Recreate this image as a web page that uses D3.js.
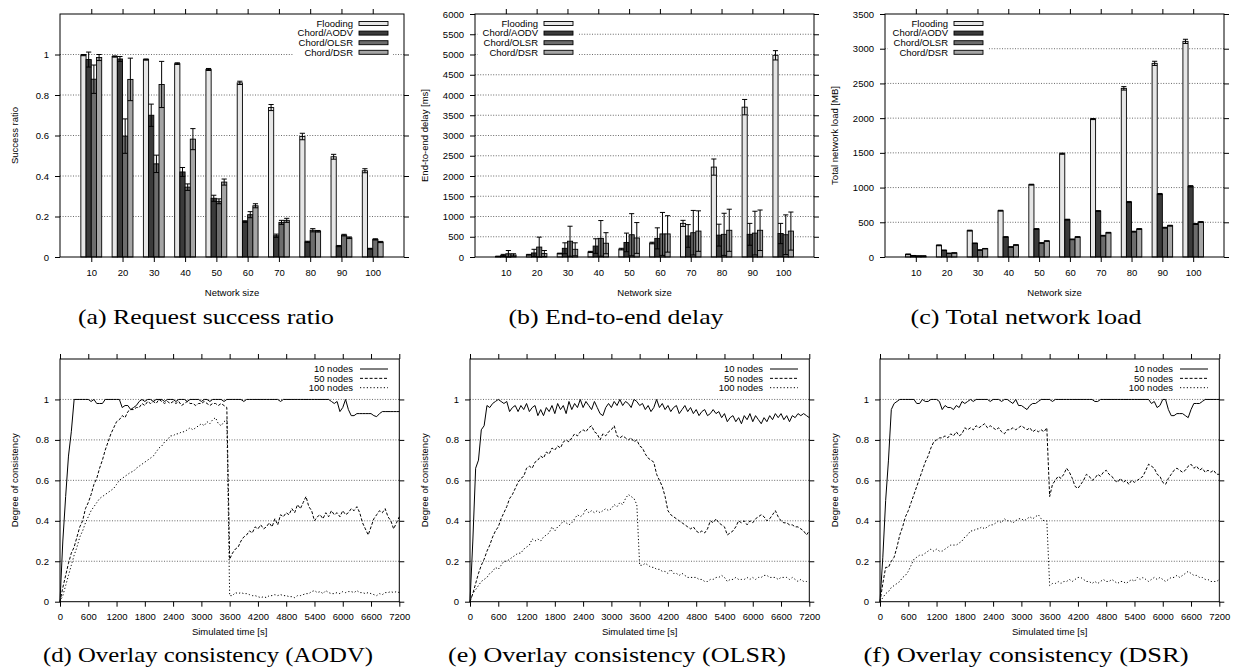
<!DOCTYPE html>
<html>
<head>
<meta charset="utf-8">
<script src="https://cdn.jsdelivr.net/npm/d3@7"></script>
<style>
body{margin:0;background:#fff}
svg text{font-family:"Liberation Sans",Arial,Helvetica,sans-serif;font-size:9.5px;fill:#000}
svg text.cap{font-family:"Liberation Serif","Times New Roman",serif;font-size:21px}
</style>
</head>
<body>
<svg id="fig" width="1237" height="671"></svg>
<script>
// categories / series names
var sizes = [10,20,30,40,50,60,70,80,90,100];
var protocols = ["Flooding","Chord/AODV","Chord/OLSR","Chord/DSR"];
var barFill = ["#e6e6e6","#3b3b3b","#6d6d6d","#a5a5a5"];

// (a) request success ratio
var succFlood    = [0.997,0.990,0.975,0.955,0.926,0.860,0.738,0.595,0.495,0.426];
var succFloodErr = [0.003,0.003,0.003,0.004,0.005,0.008,0.015,0.016,0.012,0.010];
var succAodv     = [0.975,0.978,0.700,0.420,0.290,0.175,0.105,0.075,0.054,0.041];
var succAodvErr  = [0.037,0.012,0.055,0.022,0.015,0.004,0.008,0.003,0.003,0.002];
var succOlsr     = [0.878,0.597,0.460,0.345,0.275,0.209,0.171,0.132,0.108,0.087];
var succOlsrErr  = [0.070,0.085,0.043,0.016,0.012,0.015,0.010,0.008,0.004,0.003];
var succDsr      = [0.985,0.877,0.852,0.582,0.370,0.253,0.181,0.127,0.095,0.074];
var succDsrErr   = [0.015,0.105,0.114,0.052,0.015,0.010,0.010,0.004,0.004,0.003];
var succTicks    = [0,0.2,0.4,0.6,0.8,1];

// (b) end-to-end delay [ms]
var delFlood    = [15,55,85,125,195,345,830,2220,3700,4980];
var delFloodErr = [5,10,10,15,20,20,75,200,190,115];
var delAodv     = [40,100,215,270,360,460,520,540,560,580];
var delAodvErr  = [25,90,135,180,230,260,280,270,270,250];
var delOlsr     = [80,245,390,460,550,570,600,560,590,550];
var delOlsrErr  = [80,245,370,440,520,530,550,520,540,490];
var delDsr      = [50,85,190,340,470,570,640,660,660,640];
var delDsrErr   = [30,75,160,260,380,450,500,520,500,470];
var delTicks    = [0,500,1000,1500,2000,2500,3000,3500,4000,4500,5000,5500,6000];

// (c) total network load [MB]
var loadFlood    = [38,168,380,667,1042,1488,1987,2429,2789,3106];
var loadFloodErr = [5,6,6,6,6,8,8,25,30,30];
var loadAodv     = [19,96,197,288,403,538,662,792,907,1018];
var loadAodvErr  = [3,4,4,5,6,6,6,8,8,10];
var loadOlsr     = [14,53,100,144,202,254,307,365,422,475];
var loadOlsrErr  = [2,3,3,4,4,5,5,6,6,6];
var loadDsr      = [14,58,120,173,230,288,350,403,451,504];
var loadDsrErr   = [2,3,3,4,4,5,5,6,6,6];
var loadTicks    = [0,500,1000,1500,2000,2500,3000,3500];

// (d)-(f) overlay consistency, one value every 60 s from 0 to 7200 s
var simTime = d3.range(0, 7201, 60);
var timeTicks = [0,600,1200,1800,2400,3000,3600,4200,4800,5400,6000,6600,7200];
var consTicks = [0,0.2,0.4,0.6,0.8,1];
var nodeNames = ["10 nodes","50 nodes","100 nodes"];

var aodv10 = [0,0.30,0.52,0.72,0.84,1,1,1,1,1,
  1,0.99,1,0.98,0.98,0.98,1,1,1,1,
  1,1,0.96,0.97,0.97,0.95,0.96,0.97,0.99,1,
  0.99,1,1,0.99,1,1,1,0.99,1,1,
  1,0.99,1,1,1,0.99,1,1,1,1,
  0.99,1,1,0.99,1,1,1,1,0.99,1,
  1,1,1,1,1,0.99,1,1,1,1,
  1,1,1,1,1,1,1,1,0.99,1,
  1,1,1,1,1,1,1,1,1,1,
  1,1,1,1,1,1,0.99,0.98,0.99,0.94,
  0.96,1,0.95,0.92,0.92,0.93,0.93,0.93,0.93,0.93,
  0.93,0.92,0.915,0.93,0.94,0.94,0.94,0.94,0.94,0.94,
  0.94];
var aodv50 = [0,0.07,0.13,0.19,0.24,0.27,0.32,0.37,0.40,0.46,
  0.49,0.53,0.58,0.61,0.66,0.70,0.75,0.79,0.83,0.86,
  0.89,0.90,0.92,0.91,0.94,0.95,0.95,0.96,0.96,0.98,
  0.97,0.99,0.98,0.99,0.98,1.0,0.99,0.98,0.99,0.98,
  0.99,0.98,0.99,0.97,0.98,0.99,0.98,0.98,0.97,0.98,
  0.98,0.99,0.98,0.97,0.98,0.98,0.97,0.98,0.97,0.96,
  0.21,0.24,0.26,0.27,0.30,0.32,0.33,0.35,0.34,0.37,
  0.36,0.38,0.36,0.37,0.39,0.37,0.41,0.38,0.43,0.42,
  0.44,0.43,0.46,0.44,0.48,0.46,0.49,0.52,0.47,0.45,
  0.40,0.42,0.43,0.41,0.44,0.42,0.45,0.43,0.44,0.42,
  0.45,0.43,0.44,0.46,0.45,0.47,0.44,0.39,0.36,0.33,
  0.37,0.41,0.43,0.45,0.44,0.46,0.42,0.40,0.36,0.39,
  0.42];
var aodv100 = [0,0.03,0.08,0.13,0.18,0.23,0.27,0.32,0.35,0.39,
  0.42,0.45,0.47,0.49,0.51,0.52,0.53,0.54,0.55,0.56,
  0.58,0.60,0.61,0.62,0.63,0.64,0.645,0.66,0.67,0.68,
  0.69,0.70,0.71,0.72,0.74,0.76,0.77,0.79,0.80,0.82,
  0.82,0.83,0.83,0.84,0.84,0.85,0.86,0.85,0.86,0.87,
  0.88,0.87,0.89,0.88,0.90,0.91,0.88,0.87,0.89,0.90,
  0.03,0.03,0.045,0.04,0.045,0.04,0.04,0.035,0.03,0.03,
  0.025,0.02,0.025,0.02,0.03,0.03,0.035,0.03,0.035,0.03,
  0.03,0.025,0.025,0.02,0.03,0.03,0.035,0.04,0.04,0.05,
  0.055,0.045,0.05,0.04,0.055,0.045,0.04,0.04,0.045,0.04,
  0.05,0.045,0.05,0.05,0.045,0.055,0.045,0.045,0.04,0.045,
  0.04,0.035,0.03,0.04,0.035,0.045,0.045,0.05,0.045,0.05,
  0.045];

var olsr10 = [0,0.30,0.66,0.70,0.85,0.87,0.97,0.96,0.98,0.99,
  1.0,0.99,0.98,0.99,0.94,0.96,0.97,0.94,0.97,0.95,
  0.98,0.94,0.96,0.97,0.92,0.95,0.92,0.96,0.94,0.97,
  0.93,0.98,0.95,0.97,0.93,0.99,0.95,0.98,0.96,1.0,
  0.96,0.99,0.97,0.95,0.99,0.96,0.93,0.92,0.96,0.98,
  0.96,0.99,0.97,1.0,0.97,0.99,0.98,0.96,1.0,0.99,
  0.97,0.98,0.95,0.97,0.94,0.96,1.0,0.96,0.98,0.95,
  0.97,0.94,0.96,0.97,0.93,0.95,0.97,0.94,0.96,0.93,
  0.95,0.92,0.94,0.95,0.92,0.93,0.95,0.93,0.94,0.91,
  0.93,0.89,0.91,0.92,0.89,0.91,0.88,0.92,0.90,0.93,
  0.89,0.92,0.90,0.88,0.91,0.89,0.92,0.90,0.93,0.91,
  0.93,0.90,0.92,0.89,0.92,0.91,0.93,0.92,0.93,0.92,
  0.91];
var olsr50 = [0,0.04,0.09,0.14,0.18,0.21,0.25,0.28,0.32,0.35,
  0.37,0.41,0.44,0.47,0.51,0.53,0.56,0.59,0.61,0.62,
  0.66,0.67,0.66,0.69,0.70,0.72,0.71,0.74,0.73,0.76,
  0.75,0.77,0.76,0.79,0.80,0.79,0.81,0.83,0.82,0.84,
  0.85,0.84,0.86,0.87,0.84,0.83,0.80,0.83,0.82,0.84,
  0.85,0.87,0.82,0.81,0.82,0.81,0.80,0.81,0.79,0.80,
  0.77,0.76,0.73,0.71,0.70,0.69,0.63,0.60,0.57,0.52,
  0.45,0.43,0.42,0.41,0.40,0.39,0.38,0.37,0.36,0.37,
  0.35,0.34,0.35,0.34,0.36,0.40,0.39,0.41,0.39,0.38,
  0.37,0.33,0.34,0.35,0.37,0.40,0.39,0.40,0.38,0.40,
  0.39,0.41,0.42,0.43,0.42,0.40,0.41,0.43,0.45,0.42,
  0.40,0.39,0.39,0.38,0.38,0.37,0.37,0.36,0.35,0.33,
  0.35];
var olsr100 = [0,0.04,0.06,0.08,0.10,0.11,0.12,0.14,0.15,0.17,
  0.16,0.18,0.20,0.20,0.21,0.22,0.23,0.24,0.24,0.26,
  0.27,0.28,0.31,0.30,0.31,0.30,0.32,0.33,0.34,0.37,
  0.35,0.37,0.38,0.40,0.39,0.38,0.39,0.41,0.43,0.42,
  0.43,0.46,0.44,0.45,0.44,0.45,0.44,0.45,0.46,0.45,
  0.46,0.48,0.47,0.49,0.48,0.51,0.53,0.52,0.51,0.48,
  0.18,0.18,0.19,0.18,0.17,0.17,0.16,0.16,0.15,0.15,
  0.14,0.16,0.14,0.14,0.13,0.14,0.13,0.12,0.12,0.12,
  0.12,0.11,0.11,0.10,0.10,0.11,0.11,0.12,0.12,0.13,
  0.12,0.10,0.11,0.11,0.12,0.11,0.11,0.11,0.12,0.11,
  0.12,0.11,0.12,0.12,0.13,0.13,0.12,0.12,0.12,0.11,
  0.12,0.12,0.12,0.11,0.12,0.11,0.10,0.11,0.10,0.10,
  0.095];

var dsr10 = [0,0.22,0.50,0.70,0.95,0.98,0.99,1,1,1,
  1,1,1,0.98,0.98,1,0.99,0.99,1,1,
  1,0.99,0.95,0.97,0.96,0.96,0.95,0.97,0.96,0.99,
  0.98,0.99,1,0.99,1,1,1,1,1,0.99,
  1,1,1,0.99,1,1,0.99,0.98,1,0.97,
  0.97,0.96,0.95,0.97,0.98,0.98,0.99,1,1,1,
  1,0.99,1,1,1,1,1,1,1,1,
  1,1,1,1,1,1,0.99,0.99,1,1,
  1,1,1,1,1,1,1,1,1,1,
  1,1,1,1,1,1,0.98,0.99,0.96,0.97,
  1,1,0.95,0.92,0.92,0.93,0.93,0.93,0.92,0.91,
  0.95,0.98,0.98,0.98,0.99,1,1,1,1,1,
  1];
var dsr50 = [0,0.09,0.17,0.17,0.20,0.22,0.27,0.33,0.37,0.42,
  0.45,0.49,0.53,0.57,0.61,0.65,0.69,0.72,0.76,0.79,
  0.80,0.81,0.81,0.82,0.81,0.83,0.82,0.84,0.82,0.83,
  0.86,0.85,0.86,0.85,0.87,0.86,0.87,0.88,0.86,0.87,
  0.86,0.85,0.86,0.84,0.83,0.85,0.85,0.86,0.85,0.86,
  0.87,0.86,0.85,0.86,0.84,0.85,0.84,0.85,0.84,0.86,
  0.52,0.58,0.60,0.62,0.61,0.63,0.66,0.64,0.61,0.57,
  0.56,0.58,0.60,0.63,0.62,0.60,0.61,0.63,0.62,0.64,
  0.65,0.63,0.62,0.60,0.59,0.61,0.59,0.60,0.58,0.60,
  0.59,0.60,0.61,0.62,0.65,0.68,0.67,0.66,0.63,0.62,
  0.59,0.58,0.61,0.63,0.65,0.66,0.65,0.64,0.65,0.67,
  0.68,0.66,0.67,0.65,0.66,0.64,0.65,0.64,0.65,0.63,
  0.63];
var dsr100 = [0,0.02,0.04,0.05,0.07,0.08,0.09,0.10,0.12,0.13,
  0.15,0.18,0.21,0.22,0.23,0.23,0.24,0.25,0.26,0.25,
  0.26,0.25,0.25,0.26,0.27,0.28,0.28,0.28,0.29,0.30,
  0.32,0.33,0.35,0.35,0.36,0.36,0.37,0.36,0.37,0.38,
  0.38,0.39,0.40,0.39,0.41,0.40,0.40,0.39,0.40,0.41,
  0.41,0.40,0.41,0.42,0.41,0.42,0.43,0.41,0.40,0.40,
  0.08,0.09,0.09,0.10,0.09,0.10,0.10,0.11,0.10,0.11,
  0.12,0.12,0.11,0.10,0.10,0.09,0.10,0.09,0.10,0.11,
  0.10,0.10,0.11,0.10,0.09,0.10,0.10,0.09,0.10,0.11,
  0.10,0.12,0.11,0.12,0.11,0.10,0.11,0.12,0.11,0.12,
  0.11,0.10,0.11,0.12,0.12,0.13,0.12,0.13,0.14,0.15,
  0.14,0.13,0.13,0.12,0.12,0.11,0.11,0.10,0.10,0.10,
  0.11];

var lineDash = [null, "3,1.8", "1.2,2.2"];

var svg = d3.select("#fig");

function grid(g, y, ticks, x0, x1) {
  g.selectAll("line.grid").data(ticks.filter(function(v){ return v > 0 && v < y.domain()[1]; }))
    .join("line").attr("class","grid")
    .attr("x1", x0).attr("x2", x1)
    .attr("y1", function(d){ return y(d); }).attr("y2", function(d){ return y(d); })
    .attr("stroke", "#444").attr("stroke-width", 0.8).attr("stroke-dasharray", "1,1.6");
}

function frame(g, o, x, y, xTicks, xFmt, yTicks) {
  var la = g.append("g").attr("transform", "translate(" + o.left + ",0)")
    .call(d3.axisLeft(y).tickValues(yTicks).tickSize(5).tickPadding(6).tickFormat(function(d){ return String(d); }));
  var ra = g.append("g").attr("transform", "translate(" + o.right + ",0)")
    .call(d3.axisRight(y).tickValues(yTicks).tickSize(5).tickFormat(""));
  var ba = g.append("g").attr("transform", "translate(0," + o.bottom + ")")
    .call(d3.axisBottom(x).tickValues(xTicks).tickSize(5).tickPadding(7).tickFormat(xFmt));
  var ta = g.append("g").attr("transform", "translate(0," + o.top + ")")
    .call(d3.axisTop(x).tickValues(xTicks).tickSize(5).tickFormat(""));
  [la, ra, ba, ta].forEach(function(a){
    a.select(".domain").remove();
    a.selectAll(".tick line").attr("stroke", "#000");
  });
  g.append("rect").attr("x", o.left).attr("y", o.top)
    .attr("width", o.right - o.left).attr("height", o.bottom - o.top)
    .attr("fill", "none").attr("stroke", "#000").attr("stroke-width", 1);
  g.append("text").attr("x", (o.left + o.right) / 2).attr("y", o.bottom + o.xlabDy)
    .attr("text-anchor", "middle").text(o.xlabel);
  g.append("text").attr("transform", "translate(" + o.ylabX + "," + ((o.top + o.bottom) / 2) + ") rotate(-90)")
    .attr("text-anchor", "middle").attr("dy", "0.35em").text(o.ylabel);
  g.append("text").attr("class", "cap").attr("x", o.capX).attr("y", o.capY)
    .attr("text-anchor", "middle").attr("textLength", o.capW).attr("lengthAdjust", "spacingAndGlyphs")
    .text(o.caption);
}

function barChart(o) {
  var g = svg.append("g");
  var x = d3.scaleLinear().domain([-1, 10]).range([o.left, o.right]);
  var y = d3.scaleLinear().domain([0, o.ymax]).range([o.bottom, o.top]);
  grid(g, y, o.yTicks, o.left, o.right);

  // opaque key box
  g.append("rect").attr("x", o.keyX - 60).attr("y", o.top + 1)
    .attr("width", 100).attr("height", 43).attr("fill", "#fff");

  o.series.forEach(function(vals, s) {
    var errs = o.errs[s];
    var bw = x(1/6) - x(0);
    var sg = g.append("g");
    sg.selectAll("rect").data(vals).join("rect")
      .attr("x", function(d, i){ return x(i - 1/3 + s/6); })
      .attr("y", function(d){ return y(d); })
      .attr("width", bw)
      .attr("height", function(d){ return y(0) - y(d); })
      .attr("fill", barFill[s]).attr("stroke", "#000").attr("stroke-width", 0.9);
    var eb = sg.selectAll("g.err").data(vals).join("g").attr("class", "err");
    eb.each(function(d, i) {
      var cx = x(i - 1/3 + (s + 0.5)/6);
      var lo = y(Math.max(0, d - errs[i])), hi = y(d + errs[i]);
      var e = d3.select(this);
      e.append("line").attr("x1", cx).attr("x2", cx).attr("y1", lo).attr("y2", hi);
      e.append("line").attr("x1", cx - bw/2).attr("x2", cx + bw/2).attr("y1", hi).attr("y2", hi);
      e.append("line").attr("x1", cx - bw/2).attr("x2", cx + bw/2).attr("y1", lo).attr("y2", lo);
      e.selectAll("line").attr("stroke", "#000").attr("stroke-width", 1);
    });
  });

  frame(g, o, x, y, d3.range(sizes.length), function(i){ return sizes[i]; }, o.yTicks);

  var key = g.append("g").selectAll("g").data(protocols).join("g")
    .attr("transform", function(d, i){ return "translate(" + o.keyX + "," + (o.top + 9.5 + i * 9.6) + ")"; });
  key.append("text").attr("text-anchor", "end").attr("dy", "0.35em").text(function(d){ return d; });
  key.append("rect").attr("x", 6).attr("y", -2).attr("width", 29).attr("height", 4)
    .attr("fill", function(d, i){ return barFill[i]; }).attr("stroke", "#000").attr("stroke-width", 0.9);
}

function lineChart(o) {
  var g = svg.append("g");
  var x = d3.scaleLinear().domain([0, 7200]).range([o.left, o.right]);
  var y = d3.scaleLinear().domain([0, 1.2]).range([o.bottom, o.top]);
  grid(g, y, consTicks, o.left, o.right);
  var line = d3.line().x(function(d, i){ return x(simTime[i]); }).y(function(d){ return y(d); });
  g.selectAll("path.series").data(o.series).join("path").attr("class", "series")
    .attr("d", line).attr("fill", "none").attr("stroke", "#000").attr("stroke-width", 1)
    .attr("stroke-dasharray", function(d, i){ return lineDash[i]; });

  frame(g, o, x, y, timeTicks, function(d){ return String(d); }, consTicks);

  var key = g.append("g").selectAll("g").data(nodeNames).join("g")
    .attr("transform", function(d, i){ return "translate(" + (o.left + 293) + "," + (o.top + 10 + i * 9.35) + ")"; });
  key.append("text").attr("text-anchor", "end").attr("dy", "0.35em").text(function(d){ return d; });
  key.append("line").attr("x1", 7).attr("x2", 35).attr("y1", 0).attr("y2", 0)
    .attr("stroke", "#000").attr("stroke-width", 1)
    .attr("stroke-dasharray", function(d, i){ return lineDash[i]; });
}

barChart({left: 60, right: 404, top: 14, bottom: 257, ymax: 1.2, yTicks: succTicks,
  series: [succFlood, succAodv, succOlsr, succDsr], errs: [succFloodErr, succAodvErr, succOlsrErr, succDsrErr],
  keyX: 353, xlabel: "Network size", xlabDy: 39, ylabel: "Success ratio", ylabX: 15,
  caption: "(a) Request success ratio", capX: 206, capY: 324, capW: 256});
barChart({left: 475, right: 814, top: 14, bottom: 257, ymax: 6000, yTicks: delTicks,
  series: [delFlood, delAodv, delOlsr, delDsr], errs: [delFloodErr, delAodvErr, delOlsrErr, delDsrErr],
  keyX: 538, xlabel: "Network size", xlabDy: 39, ylabel: "End-to-end delay [ms]", ylabX: 425,
  caption: "(b) End-to-end delay", capX: 616, capY: 324, capW: 215});
barChart({left: 885, right: 1224, top: 14, bottom: 257, ymax: 3500, yTicks: loadTicks,
  series: [loadFlood, loadAodv, loadOlsr, loadDsr], errs: [loadFloodErr, loadAodvErr, loadOlsrErr, loadDsrErr],
  keyX: 948, xlabel: "Network size", xlabDy: 39, ylabel: "Total network load [MB]", ylabX: 835,
  caption: "(c) Total network load", capX: 1026, capY: 324, capW: 231});

lineChart({left: 60, right: 399.3, top: 359, bottom: 601.7, series: [aodv10, aodv50, aodv100],
  xlabel: "Simulated time [s]", xlabDy: 33, ylabel: "Degree of consistency", ylabX: 15,
  caption: "(d) Overlay consistency (AODV)", capX: 208, capY: 662, capW: 330});
lineChart({left: 470, right: 809.3, top: 359, bottom: 601.7, series: [olsr10, olsr50, olsr100],
  xlabel: "Simulated time [s]", xlabDy: 33, ylabel: "Degree of consistency", ylabX: 425,
  caption: "(e) Overlay consistency (OLSR)", capX: 617, capY: 662, capW: 338});
lineChart({left: 880, right: 1219.3, top: 359, bottom: 601.7, series: [dsr10, dsr50, dsr100],
  xlabel: "Simulated time [s]", xlabDy: 33, ylabel: "Degree of consistency", ylabX: 835,
  caption: "(f) Overlay consistency (DSR)", capX: 1026, capY: 662, capW: 325});
</script>
</body>
</html>
